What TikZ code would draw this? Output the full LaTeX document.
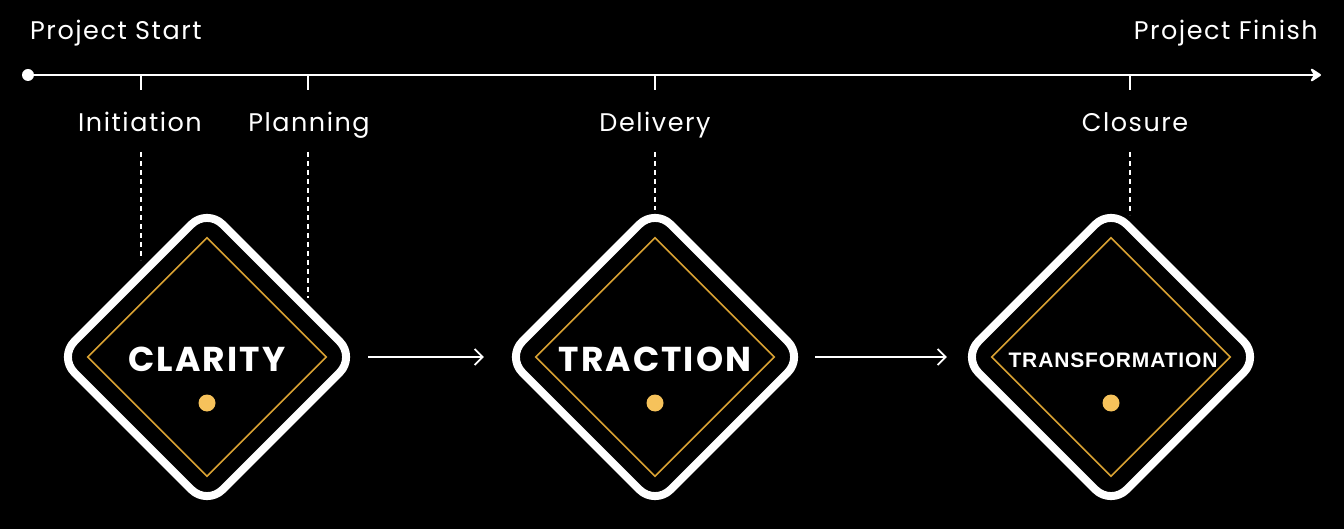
\documentclass[tikz,border=0pt]{standalone}
\usepackage{fontspec}
\setmainfont{Poppins}[LetterSpace=6]
\newfontfamily\boxfont{Liberation Sans}[LetterSpace=4]
\usetikzlibrary{arrows.meta,shapes.geometric}
\definecolor{sgold}{HTML}{D9A233}
\definecolor{sdot}{HTML}{F6C25B}
\tikzset{
  lbl/.style={text=white,font=\fontsize{25.5}{30}\selectfont,inner sep=0pt,anchor=base},
  tick/.style={white,line width=1.6pt},
  dashline/.style={white,line width=1.4pt,dash pattern=on 5pt off 4pt},
  frame/.style={diamond,minimum width=296pt,minimum height=296pt,inner sep=0pt},
  outerdia/.style={white,line width=8pt,rounded corners=22pt,line join=round},
  innerdia/.style={sgold,line width=1.6pt},
  titletxt/.style={text=white,font=\bfseries\fontsize{34.5}{38}\selectfont,inner sep=0pt,anchor=base},
  flow/.style={white,line width=1.8pt,-{Straight Barb[length=8pt,width=16pt,line width=1.8pt]}},
}
\begin{document}
\begin{tikzpicture}[x=1pt,y=-1pt]
\fill[black] (0,0) rectangle (1344,529);
\useasboundingbox (0,0) rectangle (1344,529);
% timeline
\coordinate (ts) at (28,75);
\coordinate (te) at (1321,75);
\draw[white,line width=2.2pt,-{Stealth[length=13pt,width=17pt,inset=5pt,round]}] (ts) -- (te);
\fill[white] (ts) circle (6);
\node[lbl,anchor=base west] (pstart) at (30,40) {Project Start};
\node[lbl,anchor=base east] (pfinish) at (1318,40) {Project Finish};
% ticks
\foreach \n/\x in {t1/141,t2/308,t3/655,t4/1130}{
  \coordinate (\n) at (\x,75);
  \draw[tick] (\n) -- ++(0,15);
}
\node[lbl] (ini) at (140,132) {Initiation};
\node[lbl] (pla) at (309,132) {Planning};
\node[lbl] (del) at (655,132) {Delivery};
\node[lbl] (clo) at (1135,132) {Closure};
\coordinate (e1) at (141,260);
\coordinate (e2) at (308,298);
\coordinate (e3) at (655,210);
\coordinate (e4) at (1130,215);
\draw[dashline] (141,152) -- (e1);
\draw[dashline] (308,152) -- (e2);
\draw[dashline] (655,152) -- (e3);
\draw[dashline] (1130,152) -- (e4);
% diamonds
\foreach \n/\x in {d1/207,d2/655,d3/1111}{
  \node[frame] (\n) at (\x,357) {};
  \draw[outerdia] (\n.north) -- (\n.east) -- (\n.south) -- (\n.west) -- cycle;
  \draw[innerdia] ([yshift=-29pt]\n.north) -- ([xshift=-29pt]\n.east) -- ([yshift=29pt]\n.south) -- ([xshift=29pt]\n.west) -- cycle;
  \fill[sdot] ([yshift=-46pt]\n.center) circle (8.5);
}
\node[titletxt] (c1) at (207,371) {CLARITY};
\node[titletxt] (c2) at (655,371) {TRACTION};
\node[text=white,font=\boxfont\bfseries\fontsize{21}{24}\selectfont,inner sep=0pt,anchor=base] (c3) at (1113,367) {TRANSFORMATION};
% flow arrows
\draw[flow] ([xshift=13pt]d1.east) -- ([xshift=-23pt]d2.west);
\draw[flow] ([xshift=12pt]d2.east) -- ([xshift=-16pt]d3.west);
\end{tikzpicture}
\end{document}
